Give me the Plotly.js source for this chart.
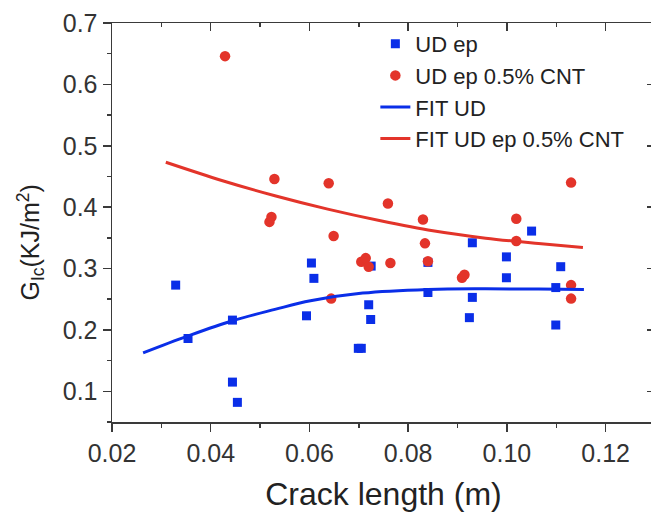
<!DOCTYPE html>
<html>
<head>
<meta charset="utf-8">
<script src="https://cdn.plot.ly/plotly-3.0.1.min.js"></script>
<style>
html, body { margin: 0; padding: 0; overflow: hidden; background: #fff; }
#chart { width: 660px; height: 512px; }
</style>
</head>
<body>
<div id="chart"></div>
<script>
// Series: UD ep (blue squares)
const xUD = [0.0329, 0.0354, 0.0444, 0.0444, 0.0454, 0.0594, 0.0604, 0.0609, 0.0699, 0.0705, 0.0720, 0.0724,
             0.0725, 0.0840, 0.0840, 0.0930, 0.0930, 0.0924, 0.0999, 0.0999, 0.1050, 0.1109, 0.1099, 0.1099];
const yUD = [0.273, 0.186, 0.216, 0.115, 0.082, 0.223, 0.309, 0.284, 0.170, 0.170, 0.241, 0.217,
             0.304, 0.261, 0.310, 0.342, 0.253, 0.220, 0.319, 0.285, 0.361, 0.303, 0.269, 0.208];

// Series: UD ep 0.5% CNT (red circles)
const xCNT = [0.0429, 0.0529, 0.0523, 0.0519, 0.0639, 0.0649, 0.0644, 0.0759, 0.0764, 0.0705, 0.0714,
              0.0720, 0.0830, 0.0834, 0.0840, 0.0909, 0.0914, 0.1019, 0.1019, 0.1130, 0.1130, 0.1130];
const yCNT = [0.646, 0.446, 0.384, 0.376, 0.439, 0.353, 0.251, 0.406, 0.309, 0.311, 0.317,
              0.303, 0.380, 0.341, 0.312, 0.285, 0.290, 0.381, 0.345, 0.440, 0.273, 0.251];

// Fit curves
const xFitUD = [0.0263, 0.0353, 0.0444, 0.0530, 0.0602, 0.0708, 0.0840, 0.0957, 0.1064, 0.1156];
const yFitUD = [0.1626, 0.1899, 0.2150, 0.2334, 0.2475, 0.2600, 0.2660, 0.2670, 0.2667, 0.2660];

const xFitCNT = [0.0309, 0.0424, 0.0530, 0.0637, 0.0744, 0.0850, 0.0957, 0.1064, 0.1154];
const yFitCNT = [0.4731, 0.4431, 0.4186, 0.3968, 0.3778, 0.3614, 0.3495, 0.3407, 0.3342];

const seriesNames = ['UD ep', 'UD ep 0.5% CNT', 'FIT UD', 'FIT UD ep 0.5% CNT'];
const xTickVals = [0.02, 0.04, 0.06, 0.08, 0.10, 0.12];
const xTickText = ['0.02', '0.04', '0.06', '0.08', '0.10', '0.12'];
const yTickVals = [0.1, 0.2, 0.3, 0.4, 0.5, 0.6, 0.7];
const xTitle = 'Crack length (m)';
const yTitle = 'G<sub>Ic</sub>(KJ/m<sup>2</sup>)';

const BLUE = '#0a2ee8';
const RED = '#e3342a';
const AX = '#3a3a3a';
const FONT = 'Liberation Sans, Arial, sans-serif';

const traces = [
  { x: xUD, y: yUD, name: seriesNames[0], type: 'scatter', mode: 'markers',
    marker: { symbol: 'square', size: 9, color: BLUE } },
  { x: xCNT, y: yCNT, name: seriesNames[1], type: 'scatter', mode: 'markers',
    marker: { symbol: 'circle', size: 10.5, color: RED } },
  { x: xFitUD, y: yFitUD, name: seriesNames[2], type: 'scatter', mode: 'lines',
    line: { color: BLUE, width: 3, shape: 'spline' } },
  { x: xFitCNT, y: yFitCNT, name: seriesNames[3], type: 'scatter', mode: 'lines',
    line: { color: RED, width: 3, shape: 'spline' } },
  { x: [], y: [], xaxis: 'x2', yaxis: 'y2', showlegend: false, hoverinfo: 'skip', type: 'scatter' }
];

const xRange = [0.02, 0.13];
const yRange = [0.05, 0.7];

const layout = {
  width: 660, height: 512,
  margin: { l: 112, r: 5, t: 23, b: 90 },
  paper_bgcolor: '#fff', plot_bgcolor: '#fff',
  font: { family: FONT, color: '#222' },
  showlegend: true,
  legend: {
    x: 0.485, y: 1.0, xanchor: 'left', yanchor: 'top',
    bgcolor: 'rgba(0,0,0,0)', borderwidth: 0,
    font: { family: FONT, size: 22, color: '#222' },
    tracegroupgap: 0
  },
  annotations: [
    { text: yTitle, xref: 'paper', yref: 'paper', x: -0.149, y: 0.45,
      xanchor: 'center', yanchor: 'middle', textangle: -90, showarrow: false,
      font: { family: FONT, size: 25, color: '#222' } }
  ],
  xaxis: {
    range: xRange, tickvals: xTickVals, ticktext: xTickText,
    ticks: 'outside', ticklen: 8, tickwidth: 1.5, tickcolor: AX,
    showline: true, linecolor: AX, linewidth: 1.5, showgrid: false, zeroline: false,
    tickfont: { family: FONT, size: 25, color: '#333' },
    minor: { dtick: 0.01, tick0: 0.02, ticks: 'outside', ticklen: 4, tickwidth: 1.5, tickcolor: AX, showgrid: false },
    title: { text: xTitle, font: { family: FONT, size: 32, color: '#222' }, standoff: 17 }
  },
  yaxis: {
    range: yRange, tickvals: yTickVals,
    ticks: 'outside', ticklen: 8, tickwidth: 1.5, tickcolor: AX,
    showline: true, linecolor: AX, linewidth: 1.5, showgrid: false, zeroline: false,
    tickfont: { family: FONT, size: 25, color: '#333' },
    minor: { dtick: 0.05, tick0: 0.05, ticks: 'outside', ticklen: 4, tickwidth: 1.5, tickcolor: AX, showgrid: false }
  },
  xaxis2: {
    overlaying: 'x', side: 'top', anchor: 'y2', range: xRange, tickvals: xTickVals,
    showticklabels: false, ticks: 'inside', ticklen: 8, tickwidth: 1.5, tickcolor: AX,
    showline: true, linecolor: AX, linewidth: 1.5, showgrid: false, zeroline: false,
    minor: { dtick: 0.01, tick0: 0.02, ticks: 'inside', ticklen: 4, tickwidth: 1.5, tickcolor: AX, showgrid: false }
  },
  yaxis2: {
    overlaying: 'y', side: 'right', anchor: 'x2', range: yRange, tickvals: yTickVals,
    showticklabels: false, ticks: 'inside', ticklen: 8, tickwidth: 1.5, tickcolor: AX,
    showline: true, linecolor: AX, linewidth: 1.5, showgrid: false, zeroline: false,
    minor: { dtick: 0.05, tick0: 0.05, ticks: 'inside', ticklen: 4, tickwidth: 1.5, tickcolor: AX, showgrid: false }
  }
};

Plotly.newPlot('chart', traces, layout, { displayModeBar: false, staticPlot: true });
</script>
</body>
</html>
